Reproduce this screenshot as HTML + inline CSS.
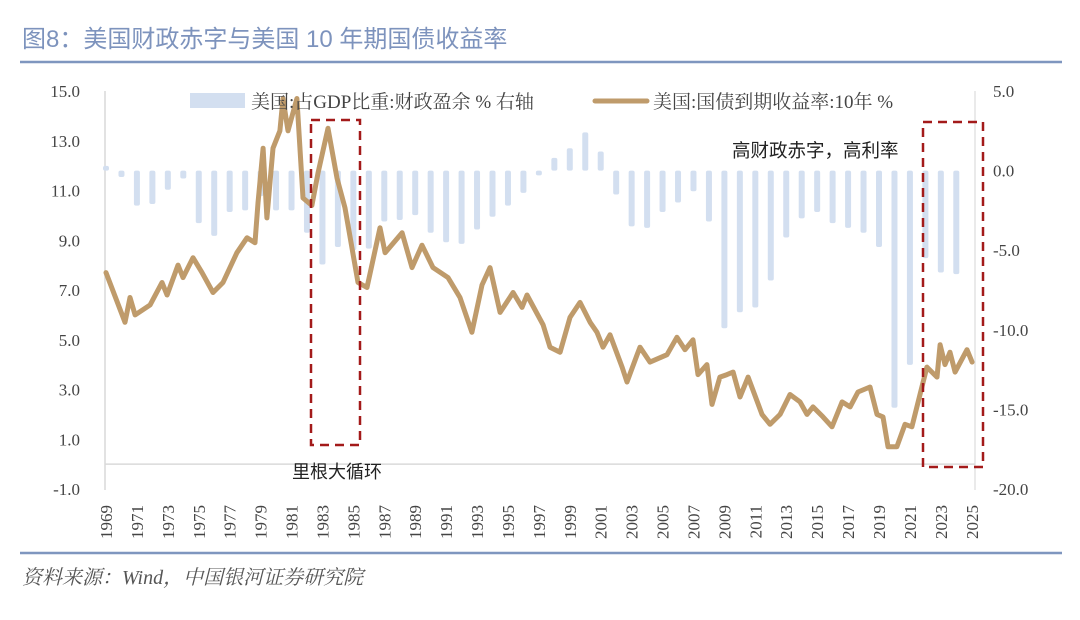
<!DOCTYPE html>
<html><head><meta charset="utf-8">
<style>
html,body{margin:0;padding:0;background:#fff;}
body{width:1080px;height:615px;overflow:hidden;position:relative;font-family:"Liberation Serif","Noto Serif CJK SC",serif;}
</style></head>
<body>
<svg id="chart" width="1080" height="615" viewBox="0 0 1080 615" xmlns="http://www.w3.org/2000/svg">
  <text x="22" y="47" font-size="24" fill="#7d93bd" font-family="Liberation Sans, Noto Sans CJK SC, sans-serif">图8：美国财政赤字与美国 10 年期国债收益率</text>
  <line x1="20" y1="62" x2="1062" y2="62" stroke="#7f96bf" stroke-width="2.5"/>
  <line x1="20" y1="553" x2="1062" y2="553" stroke="#7f96bf" stroke-width="2.5"/>
  <text x="22" y="584" font-size="20" fill="#555" font-style="italic" font-family="Liberation Serif, Noto Serif CJK SC, serif">资料来源：Wind，中国银河证券研究院</text>
  <g id="plot"></g>
</svg>
<script>
const barYears = [];
for (let y = 1969; y <= 2024; y++) barYears.push(y);
const balanceValues = [0.3,-0.4,-2.2,-2.1,-1.2,-0.5,-3.3,-4.1,-2.6,-2.5,-1.6,-2.5,-2.5,-3.9,-5.9,-4.8,-5.0,-4.9,-3.2,-3.1,-2.8,-3.9,-4.5,-4.6,-3.7,-2.9,-2.2,-1.4,-0.3,0.8,1.4,2.4,1.2,-1.5,-3.5,-3.6,-2.6,-2.0,-1.3,-3.2,-9.9,-8.9,-8.6,-6.9,-4.2,-3.0,-2.6,-3.3,-3.6,-3.9,-4.8,-14.9,-12.2,-5.5,-6.4,-6.5];
const yieldDates = [1969.0,1970.23,1970.55,1970.88,1971.85,1972.62,1972.95,1973.66,1973.98,1974.63,1975.21,1975.92,1976.57,1977.47,1978.12,1978.64,1978.83,1979.16,1979.41,1979.80,1980.25,1980.45,1980.77,1981.35,1981.74,1982.32,1982.71,1983.36,1983.94,1984.46,1985.30,1985.88,1986.72,1987.05,1988.15,1988.79,1989.44,1990.15,1991.12,1991.90,1992.67,1993.32,1993.84,1994.49,1995.33,1995.91,1996.23,1997.27,1997.72,1998.37,1999.01,1999.66,2000.31,2000.76,2001.15,2001.60,2002.38,2002.70,2003.35,2003.54,2004.19,2005.29,2005.93,2006.45,2006.97,2007.29,2007.87,2008.20,2008.71,2009.17,2009.56,2010.01,2010.53,2011.43,2011.95,2012.60,2013.24,2013.89,2014.34,2014.73,2015.38,2015.96,2016.61,2017.13,2017.64,2018.42,2018.87,2019.26,2019.58,2020.16,2020.68,2021.13,2021.65,2022.10,2022.75,2022.95,2023.27,2023.59,2023.92,2024.69,2025.02];
const yieldValues = [7.7,5.7,6.7,6.0,6.4,7.3,6.8,8.0,7.5,8.3,7.7,6.9,7.3,8.5,9.1,8.9,10.5,12.7,9.9,12.7,13.4,14.7,13.4,14.7,10.7,10.4,11.7,13.5,11.5,10.3,7.3,7.1,9.5,8.5,9.3,7.9,8.8,7.9,7.5,6.7,5.3,7.2,7.9,6.1,6.9,6.3,6.8,5.6,4.7,4.5,5.9,6.5,5.7,5.3,4.7,5.2,3.9,3.3,4.4,4.7,4.1,4.4,5.1,4.6,5.0,3.6,4.0,2.4,3.5,3.6,3.7,2.7,3.5,2.0,1.6,2.0,2.8,2.5,2.0,2.3,1.9,1.5,2.5,2.3,2.9,3.1,2.0,1.9,0.7,0.7,1.6,1.5,2.8,3.9,3.5,4.8,4.0,4.5,3.7,4.6,4.1,4.2];
const leftTicks = [15,13,11,9,7,5,3,1,-1];
const rightTicks = [5,0,-5,-10,-15,-20];
const xTickYears = [];
for (let y = 1969; y <= 2025; y += 2) xTickYears.push(y);

const NS = "http://www.w3.org/2000/svg";
const plot = document.getElementById('plot');
function xS(yr){ return 106 + (yr - 1969) * 15.46; }
function yL(v){ return 91 + (15 - v) * 24.875; }
function yR(v){ return 91 + (5 - v) * 15.92; }
function mk(tag, attrs, parent){
  const e = document.createElementNS(NS, tag);
  for (const k in attrs) e.setAttribute(k, attrs[k]);
  (parent || plot).appendChild(e);
  return e;
}
let el = mk('line',{x1:105,y1:91,x2:105,y2:490,stroke:'#d9d9d9','stroke-width':1.5});


el = mk('line',{x1:975,y1:91,x2:975,y2:490,stroke:'#e3e3e3','stroke-width':1.5});


el = mk('line',{x1:105,y1:yL(0),x2:975,y2:yL(0),stroke:'#d9d9d9','stroke-width':1.5});


for (let i = 0; i < barYears.length; i++) {
  const x = xS(barYears[i]);
  const y0 = yR(0), y1 = yR(balanceValues[i]);
  const b = mk('rect',{x:x-3,y:Math.min(y0,y1),width:6,height:Math.max(1,Math.abs(y1-y0)),fill:'#d3dff0',rx:2});
  
  
}
let d = '';
for (let i = 0; i < yieldDates.length; i++) d += (i ? 'L' : 'M') + xS(yieldDates[i]).toFixed(1) + ' ' + yL(yieldValues[i]).toFixed(1);
el = mk('path',{d:d,fill:'none',stroke:'#bf9b6b','stroke-width':5,'stroke-linejoin':'round','stroke-linecap':'round'});


leftTicks.forEach(v => {
  const t = mk('text',{x:80,y:yL(v)+6,'text-anchor':'end','font-size':17,fill:'#444'});
  t.textContent = v.toFixed(1);
  
  
});
rightTicks.forEach(v => {
  const t = mk('text',{x:993,y:yR(v)+6,'text-anchor':'start','font-size':17,fill:'#444'});
  t.textContent = v.toFixed(1);
  
  
});
xTickYears.forEach(yr => {
  const x = xS(yr);
  const t = mk('text',{x:0,y:0,'text-anchor':'end','font-size':17,fill:'#444',transform:'translate(' + (x+6) + ',505) rotate(-90)'});
  t.textContent = yr;
  
  
});
el = mk('rect',{x:311,y:120,width:49,height:325,fill:'none',stroke:'#a31a1a','stroke-width':2.5,'stroke-dasharray':'9 6'});


el = mk('rect',{x:923,y:122,width:60,height:345,fill:'none',stroke:'#a31a1a','stroke-width':2.5,'stroke-dasharray':'9 6'});


el = mk('text',{x:337,y:478,'text-anchor':'middle','font-size':18,fill:'#222','font-family':'Liberation Sans, Noto Sans CJK SC, sans-serif'});
el.textContent = '里根大循环';


el = mk('text',{x:732,y:157,'font-size':18.5,fill:'#222','font-family':'Liberation Sans, Noto Sans CJK SC, sans-serif'});
el.textContent = '高财政赤字，高利率';


el = mk('rect',{x:190,y:93,width:55,height:15,fill:'#d3dff0'});


el = mk('text',{x:251,y:108,'font-size':19,fill:'#444','font-family':'Liberation Serif, Noto Serif CJK SC, serif'});
el.textContent = '美国:占GDP比重:财政盈余 % 右轴';


el = mk('line',{x1:595,y1:101,x2:647,y2:101,stroke:'#bf9b6b','stroke-width':5,'stroke-linecap':'round'});


el = mk('text',{x:653,y:108,'font-size':19,fill:'#444','font-family':'Liberation Serif, Noto Serif CJK SC, serif'});
el.textContent = '美国:国债到期收益率:10年 %';


</script>
</body></html>
